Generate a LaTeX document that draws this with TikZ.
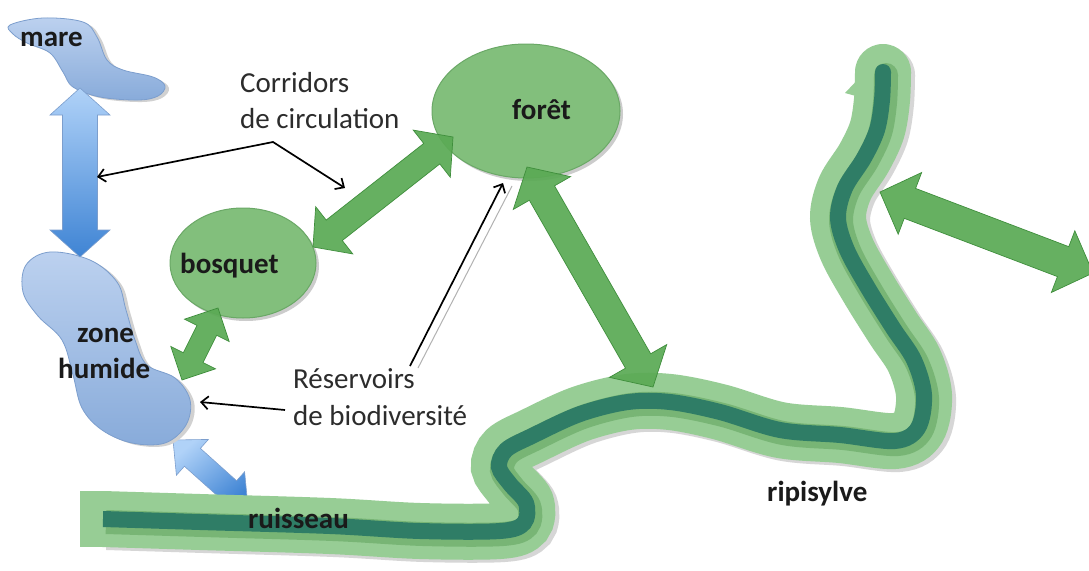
\documentclass[tikz,border=0pt]{standalone}
\usepackage{fontspec}
\setmainfont{Carlito}
\usetikzlibrary{calc,arrows.meta,shadows,shapes.geometric}

\definecolor{lgreen}{HTML}{97CD95}
\definecolor{lgreendraw}{HTML}{86C284}
\definecolor{mgreen}{HTML}{78B575}
\definecolor{dteal}{HTML}{2F7D66}
\definecolor{ellfill}{HTML}{82BF7C}
\definecolor{elldraw}{HTML}{6AA866}
\definecolor{arrfill}{HTML}{5BAA55}
\definecolor{arrdraw}{HTML}{3F8E3C}
\definecolor{blobtop}{HTML}{BCD1EF}
\definecolor{blobbot}{HTML}{88ABDA}
\definecolor{blobdraw}{HTML}{7C9ECD}
\definecolor{bluetop}{HTML}{B0D2F8}
\definecolor{bluebot}{HTML}{3F84D4}
\definecolor{txt}{HTML}{1A1A1A}

\tikzset{
  lbl/.style={font=\fontsize{29}{31}\selectfont\bfseries, text=txt, inner sep=0pt, anchor=base west},
  note/.style={font=\fontsize{29}{31}\selectfont, text=txt!92, inner sep=0pt, anchor=base west},
  ell/.style={ellipse, draw=elldraw, fill=ellfill, line width=1pt, inner sep=0pt,
    general shadow={shadow xshift=3pt, shadow yshift=-3pt, fill=black!20}},
  blob/.style={draw=blobdraw, line width=0.8pt, top color=blobtop, bottom color=blobbot,
    preaction={general shadow={shadow xshift=4pt, shadow yshift=-2pt, fill=black!18}}},
  garrow/.style={fill=arrfill, draw=arrdraw, line width=0.7pt, line join=miter, fill opacity=0.93},
  barrowv/.style={draw=blobdraw, line width=0.6pt, line join=miter, top color=bluetop, bottom color=bluebot},
  barrowd/.style={draw=blobdraw, line width=0.6pt, line join=miter, top color=bluetop, bottom color=bluebot, shading angle=40},
  pointer/.style={draw=black, line width=1.7pt, line join=round, {Straight Barb[length=7pt,width=13pt]}-{Straight Barb[length=7pt,width=13pt]}},
  pointerone/.style={draw=black, line width=1.7pt, -{Straight Barb[length=7pt,width=13pt]}},
  ptrshadow/.style={draw=black!30, line width=1pt},
}

% double block arrow: #1 start, #2 end, #3 shaft half width, #4 head half width, #5 head length, #6 style
\newcommand{\dblarr}[6]{%
  \draw[#6] let \p1=(#1), \p2=(#2), \n1={atan2(\y2-\y1,\x2-\x1)} in
    (\p1) -- ($(\p1)+(\n1:#5pt)+(\n1+90:#4pt)$) -- ($(\p1)+(\n1:#5pt)+(\n1+90:#3pt)$)
    -- ($(\p2)+(\n1+180:#5pt)+(\n1+90:#3pt)$) -- ($(\p2)+(\n1+180:#5pt)+(\n1+90:#4pt)$)
    -- (\p2)
    -- ($(\p2)+(\n1+180:#5pt)+(\n1-90:#4pt)$) -- ($(\p2)+(\n1+180:#5pt)+(\n1-90:#3pt)$)
    -- ($(\p1)+(\n1:#5pt)+(\n1-90:#3pt)$) -- ($(\p1)+(\n1:#5pt)+(\n1-90:#4pt)$) -- cycle;}

\def\riverpath{plot[smooth, tension=0.55] coordinates {(103,519) (200,522) (330,526) (420,531) (500,531) (524,523) (526,503) (510,484) (499,467) (506,450) (532,436) (580,414) (628,402) (670,402) (720,412) (780,430) (840,435) (895,441) (918,428) (924,395) (914,360) (893,328) (868,288) (847,250) (838,218) (845,188) (864,158) (877,130) (882,100) (883,72)}}

\begin{document}
\begin{tikzpicture}[x=1pt, y=-1pt]
\fill[white] (0,0) rectangle (1089,570);
\useasboundingbox (0,0) rectangle (1089,570);

% ---- blue arrow zone humide -> ruisseau (under the band)
\coordinate (zb1) at (173,440);
\coordinate (zb2) at (248,507);
\dblarr{zb1}{zb2}{12}{24}{26}{barrowd}

% ---- river (ruisseau / ripisylve)
\begin{scope}[shift={(4,3)}]
  \draw[black!16, line width=56pt, line cap=butt] \riverpath;
  \fill[black!16] (883,72) circle[radius=28pt];
\end{scope}
\draw[lgreen, line width=56pt, line cap=butt] \riverpath;
\draw[lgreen, line width=56pt, line cap=butt] (80,519) -- (104,519);
\fill[lgreen] (883,72) circle[radius=28pt];
\fill[lgreen] (845,93) -- (863,74) -- (863,98) -- cycle;
\begin{scope}[shift={(3,3)}]
  \draw[mgreen, line width=24pt, line cap=butt] \riverpath;
  \fill[mgreen] (883,72) circle[radius=12pt];
\end{scope}
\draw[dteal, line width=16pt, line cap=butt] \riverpath;
\fill[dteal] (883,72) circle[radius=8pt];

% ---- blobs
\path[blob] plot[smooth cycle, tension=0.6] coordinates {(10,25) (43,18) (83,22) (97,37) (107,60) (123,70) (153,77) (165,86) (158,96) (138,100) (100,97) (73,87) (63,72) (50,53) (27,43) (13,34)};
\path[blob] plot[smooth cycle, tension=0.6] coordinates {(50,252) (90,260) (117,282) (126,310) (135,340) (147,365) (175,378) (190,400) (186,425) (165,443) (132,443) (102,430) (82,408) (73,375) (62,340) (38,316) (23,292) (26,265)};

% ---- ellipses
\node[ell, minimum width=188pt, minimum height=134pt] (foret) at (526,111) {};
\node[ell, minimum width=146pt, minimum height=110pt] (bosquet) at (243,263) {};

% ---- vertical blue arrow mare <-> zone humide
\coordinate (mz1) at (80,88);
\coordinate (mz2) at (80,257);
\dblarr{mz1}{mz2}{17.5}{30}{27}{barrowv}

% ---- green arrows
\coordinate (bf1) at (313,247);
\coordinate (bf2) at (453,137);
\dblarr{bf1}{bf2}{13}{30}{27}{garrow}
\coordinate (fr1) at (527,167);
\coordinate (fr2) at (653,387);
\dblarr{fr1}{fr2}{14.5}{33}{30}{garrow}
\coordinate (bz1) at (218,308);
\coordinate (bz2) at (182,380);
\dblarr{bz1}{bz2}{11}{25}{25}{garrow}
\coordinate (rr1) at (880,192);
\coordinate (rr2) at (1093,273);
\dblarr{rr1}{rr2}{16}{33}{32}{garrow}

% ---- labels
\node[lbl] (tmare) at (20,46) {mare};
\node[lbl] (tforet) at (512,119) {forêt};
\node[lbl] (tbosquet) at (180,273) {bosquet};
\node[lbl] (tzone) at (77,342) {zone};
\node[lbl] (thumide) at (58,378) {humide};
\node[lbl] (truisseau) at (248,528) {ruisseau};
\node[lbl] (tripi) at (767,501) {ripisylve};
\node[note] (tcorr) at (240,92) {Corridors};
\node[note] (tcirc) at (240,128) {de circulation};
\node[note] (tres) at (293,388) {Réservoirs};
\node[note] (tbio) at (293,425) {de biodiversité};

% ---- pointers
\coordinate (ck) at (273,142);
\coordinate (cl) at (97,177);
\coordinate (cr) at (345,188);
\draw[pointer] (cl) -- (ck) -- (cr);
\coordinate (rs1) at (418,368);
\coordinate (rs2) at (512,186);
\draw[ptrshadow] (rs1) -- (rs2);
\coordinate (r1) at (410,366);
\coordinate (r2) at (503,183);
\draw[pointerone] (r1) -- (r2);
\coordinate (z1) at (285,410);
\coordinate (z2) at (200,402);
\draw[pointerone] (z1) -- (z2);
\end{tikzpicture}
\end{document}
